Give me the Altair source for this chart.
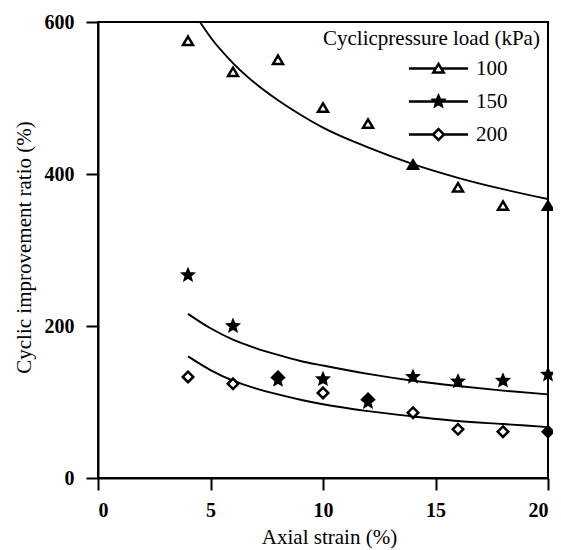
import altair as alt
import pandas as pd

# ---- data ----
strain = [4, 6, 8, 10, 12, 14, 16, 18, 20]
ratio_100 = [575, 534, 550, 487, 466, 412, 382, 358, 358]
ratio_150 = [267, 200, 129, 130, 100, 133, 127, 128, 136]
ratio_200 = [133, 124, 133, 112, 104, 86, 64, 61, 61]
filled_100 = [0, 0, 0, 0, 0, 1, 0, 0, 1]
filled_150 = [1, 1, 1, 1, 1, 1, 1, 1, 1]
filled_200 = [0, 0, 1, 0, 1, 0, 0, 0, 1]

fit_x_100 = [4.53, 5, 6, 7, 8, 9, 10, 12, 14, 16, 18, 20]
fit_100 = [600, 580, 546, 519, 497, 478, 461, 435, 413, 395, 380, 367]
fit_x = [4, 5, 6, 7, 8, 9, 10, 12, 14, 16, 18, 20]
fit_150 = [216, 197, 182, 171, 162, 154, 148, 137, 128, 121, 115, 110]
fit_200 = [160, 142, 128, 118, 110, 103, 97, 88, 81, 75, 71, 67]

loads = ["100", "150", "200"]
x_ticks = [0, 5, 10, 15, 20]
y_ticks = [0, 200, 400, 600]

# ---- tables ----
rows = []
for load, ys, fs in [("100", ratio_100, filled_100), ("150", ratio_150, filled_150), ("200", ratio_200, filled_200)]:
    for x, y, f in zip(strain, ys, fs):
        rows.append({"strain": x, "ratio": y, "load": load, "filled": bool(f)})
pts = pd.DataFrame(rows)

frows = []
for load, xs, ys in [("100", fit_x_100, fit_100), ("150", fit_x, fit_150), ("200", fit_x, fit_200)]:
    for x, y in zip(xs, ys):
        frows.append({"strain": x, "ratio": y, "load": load})
fits = pd.DataFrame(frows)

TRI = "M0,-0.85L0.95,0.75L-0.95,0.75Z"
STAR = ("M0,-1L0.27,-0.37L0.95,-0.31L0.43,0.14L0.59,0.81L0,0.45L-0.59,0.81"
        "L-0.43,0.14L-0.95,-0.31L-0.27,-0.37Z")
DIA = "M0,-1L1,0L0,1L-1,0Z"

TRI_L = TRI + "M-5.4,0L-0.48,0M0.48,0L5.4,0"
STAR_L = STAR + "M-5.4,0L5.4,0"
DIA_L = DIA + "M-5.4,0L-1,0M1,0L5.4,0"

serif = "Liberation Serif"

x_enc = alt.X("strain:Q", scale=alt.Scale(domain=[0, 20], nice=False),
              axis=alt.Axis(title="Axial strain (%)", values=x_ticks, format="d", titleX=231))
y_enc = alt.Y("ratio:Q", scale=alt.Scale(domain=[0, 600], nice=False),
              axis=alt.Axis(title="Cyclic improvement ratio (%)", values=y_ticks, format="d",
                            titleX=-64, titleY=225))

lines = alt.Chart(fits).mark_line(color="black", strokeWidth=1.9, interpolate="monotone", clip=True).encode(
    x=x_enc, y=y_enc, detail="load:N"
)

shape_plain = alt.Shape("load:N", scale=alt.Scale(domain=loads, range=[TRI, STAR, DIA]), legend=None)

open_pts = alt.Chart(pts).transform_filter("!datum.filled").mark_point(
    stroke="black", strokeWidth=2.5, size=110, opacity=1, fill="white", filled=False
).encode(x=x_enc, y=y_enc, shape=shape_plain)

solid_pts = alt.Chart(pts).transform_filter("datum.filled").mark_point(
    stroke="black", strokeWidth=2.5, size=110, opacity=1, fill="black", filled=False
).encode(x=x_enc, y=y_enc, shape=shape_plain)

legend_def = alt.Legend(
    title="Cyclicpressure load (kPa)",
    orient="none", legendX=225, legendY=6,
    symbolSize=120, symbolOffset=105, labelOffset=27,
    rowPadding=11, titlePadding=9, titleLimit=500, labelLimit=200,
    symbolStrokeWidth=2.5, symbolOpacity=1,
    titleFont=serif, titleFontSize=21, titleFontWeight="normal", titleColor="black",
    labelFont=serif, labelFontSize=21, labelColor="black",
)

legend_layer = alt.Chart(pts).transform_filter("false").mark_point(
    strokeWidth=2.5, size=120, opacity=1, filled=False
).encode(
    x=x_enc, y=y_enc,
    shape=alt.Shape("load:N", scale=alt.Scale(domain=loads, range=[TRI_L, STAR_L, DIA_L]), legend=legend_def),
    fill=alt.Fill("load:N", scale=alt.Scale(domain=loads, range=["white", "black", "white"]), legend=legend_def),
    stroke=alt.Stroke("load:N", scale=alt.Scale(domain=loads, range=["black", "black", "black"]), legend=legend_def),
)

chart = alt.layer(lines, open_pts, solid_pts, legend_layer).resolve_scale(
    shape="independent", fill="independent", stroke="independent"
).properties(
    width=450, height=456,
    autosize=alt.AutoSizeParams(type="none"),
    padding={"left": 90, "top": 14, "right": 5, "bottom": 80},
).configure_view(
    stroke="black", strokeWidth=2
).configure_axis(
    grid=False,
    domainColor="black", domainWidth=2,
    tickColor="black", tickWidth=2, tickSize=12,
    labelFont=serif, labelFontSize=20, labelFontWeight="bold", labelColor="black",
    titleFont=serif, titleFontSize=21, titleFontWeight="normal", titleColor="black",
).configure_axisY(
    labelPadding=12,
).configure_axisX(
    labelPadding=10, titlePadding=6,
)

chart.save("out.html", embed_options={"renderer": "svg", "actions": False})
